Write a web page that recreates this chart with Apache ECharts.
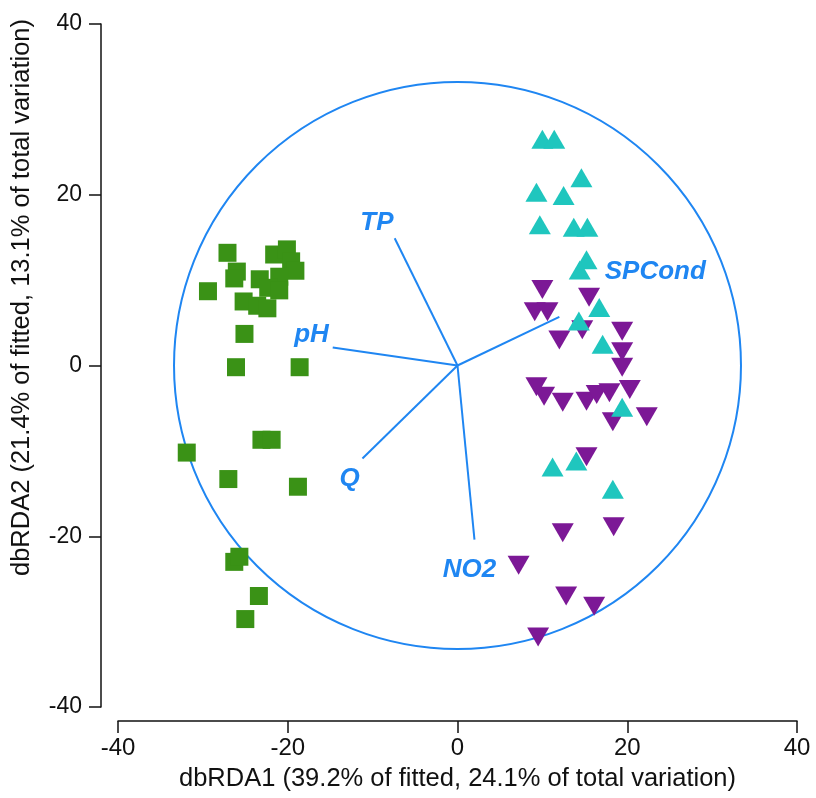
<!DOCTYPE html>
<html>
<head>
<meta charset="utf-8">
<script src="https://cdn.jsdelivr.net/npm/echarts@6/dist/echarts.min.js"></script>
<style>
    html, body { margin: 0; padding: 0; background: #fff; }
    #main { width: 816px; height: 798px; }
</style>
</head>
<body>
<div id="main"></div>
<script>
    // site groups (dbRDA1, dbRDA2)
    var squares = [
        [-27.1, 13.2], [-29.4, 8.7], [-26.0, 11.0], [-26.3, 10.2], [-25.2, 7.5],
        [-25.1, 3.7], [-26.1, -0.2], [-21.6, 13.0], [-20.1, 13.6], [-19.6, 12.2],
        [-19.1, 11.1], [-21.0, 10.4], [-23.3, 10.1], [-22.3, 9.1], [-21.0, 8.8],
        [-23.6, 7.0], [-22.4, 6.7], [-18.6, -0.2], [-31.9, -10.2], [-23.1, -8.7],
        [-21.9, -8.7], [-27.0, -13.3], [-18.8, -14.2], [-26.3, -23.0], [-25.7, -22.4],
        [-23.4, -27.0], [-25.0, -29.7]
    ]
    var upTriangles = [
        [10.0, 26.5], [11.4, 26.5], [14.6, 22.0], [9.3, 20.3], [12.5, 19.9],
        [9.7, 16.5], [13.7, 16.2], [15.3, 16.2], [15.2, 12.4], [14.4, 11.2],
        [16.7, 6.8], [14.3, 5.2], [17.1, 2.5], [19.4, -4.9], [11.2, -11.9],
        [14.0, -11.2], [18.3, -14.5]
    ]
    var downTriangles = [
        [10.0, 8.9], [15.5, 8.0], [9.1, 6.3], [10.6, 6.3], [12.0, 3.0],
        [14.7, 4.2], [19.4, 4.0], [19.4, 1.6], [19.4, -0.2], [9.3, -2.5],
        [10.2, -3.6], [12.4, -4.3], [15.2, -4.2], [16.4, -3.4], [17.9, -3.2],
        [20.3, -2.8], [18.3, -6.6], [22.3, -6.0], [15.2, -10.7], [12.4, -19.6],
        [18.4, -18.9], [7.2, -23.4], [12.8, -27.0], [16.1, -28.2], [9.5, -31.8]
    ]

    // predictor vectors
    var vectorNames = ['TP', 'pH', 'Q', 'NO2', 'SPCond']
    var vectorEnds = [[-7.4, 14.9], [-14.7, 2.1], [-11.2, -10.9], [2.0, -20.4], [12.0, 5.7]]
    var vectorLabelAt = [[-9.5, 16.7], [-17.2, 3.6], [-12.7, -13.3], [1.4, -23.9], [23.3, 11.0]]
    var circleRadius = 33.4

    var axisTicks = [-40, -20, 0, 20, 40]

    var blue = '#1f86f2'
    var axisFont = "'Liberation Sans', Arial, sans-serif"
    var myChart = echarts.init(document.getElementById('main'))

    var series = []
    series.push({
        type: 'custom',
        silent: true,
        z: 1,
        data: [[0, 0, circleRadius]],
        renderItem: function (params, api) {
            var c = api.coord([api.value(0), api.value(1)])
            var r = api.size([api.value(2), 0])[0]
            return {
                type: 'circle',
                shape: { cx: c[0], cy: c[1], r: r },
                style: { fill: 'none', stroke: blue, lineWidth: 2 }
            }
        }
    })
    series.push({
        type: 'scatter', data: squares, symbol: 'rect', symbolSize: 18,
        itemStyle: { color: '#3a9216', opacity: 1 }, z: 2
    })
    series.push({
        type: 'scatter', data: downTriangles, symbol: 'triangle', symbolSize: [22, 19],
        symbolRotate: 180, itemStyle: { color: '#7c1896', opacity: 1 }, z: 2
    })
    series.push({
        type: 'scatter', data: upTriangles, symbol: 'triangle', symbolSize: [22, 19],
        itemStyle: { color: '#1fc6be', opacity: 1 }, z: 2
    })
    vectorEnds.forEach(function (end, i) {
        series.push({
            type: 'line',
            name: vectorNames[i],
            data: [[0, 0], end],
            symbol: 'none',
            lineStyle: { color: blue, width: 2 },
            z: 3
        })
    })
    series.push({
        type: 'scatter',
        symbolSize: 0,
        z: 4,
        itemStyle: { opacity: 1 },
        data: vectorLabelAt.map(function (p, i) {
            return { name: vectorNames[i], value: p }
        }),
        label: {
            show: true,
            position: 'inside',
            formatter: '{b}',
            color: blue,
            fontFamily: 'Liberation Sans',
            fontWeight: 'bold',
            fontStyle: 'italic',
            fontSize: 26
        }
    })

    myChart.setOption({
        animation: false,
        grid: { left: 118, right: 19, top: 24, bottom: 91, outerBoundsMode: 'none' },
        xAxis: {
            type: 'value',
            min: axisTicks[0],
            max: axisTicks[axisTicks.length - 1],
            interval: 20,
            offset: 14,
            name: 'dbRDA1 (39.2% of fitted, 24.1% of total variation)',
            nameLocation: 'middle',
            nameGap: 45,
            nameTextStyle: { fontFamily: axisFont, fontSize: 25.5, color: '#111' },
            splitLine: { show: false },
            axisLine: { onZero: false, lineStyle: { color: '#111', width: 1.5 } },
            axisTick: { inside: false, length: 12, lineStyle: { color: '#111', width: 1.5 } },
            axisLabel: { fontFamily: axisFont, fontSize: 24, color: '#111', margin: 15 }
        },
        yAxis: {
            type: 'value',
            min: axisTicks[0],
            max: axisTicks[axisTicks.length - 1],
            interval: 20,
            offset: 17,
            name: 'dbRDA2 (21.4% of fitted, 13.1% of total variation)',
            nameLocation: 'middle',
            nameGap: 66,
            nameTextStyle: { fontFamily: axisFont, fontSize: 25.5, color: '#111', padding: [0, 0, 0, 136] },
            splitLine: { show: false },
            axisLine: { onZero: false, lineStyle: { color: '#111', width: 1.5 } },
            axisTick: { inside: false, length: 12, lineStyle: { color: '#111', width: 1.5 } },
            axisLabel: { fontFamily: axisFont, fontSize: 23, color: '#111', margin: 19 }
        },
        series: series
    })
</script>
</body>
</html>
